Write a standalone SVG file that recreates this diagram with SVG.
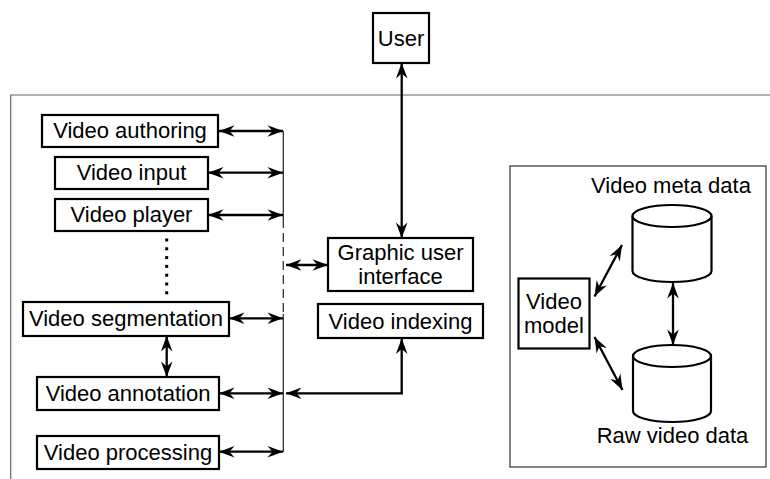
<svg xmlns="http://www.w3.org/2000/svg" width="770" height="479" viewBox="0 0 770 479">
  <style>
    .box { fill: #fff; stroke: #000; stroke-width: 2.2; }
    .lbl { font-family: "Liberation Sans", Arial, Helvetica, sans-serif; font-size: 22px; fill: #000; text-anchor: middle; }
    .frame { fill: none; stroke: #666; stroke-width: 1.2; }
    .bus { fill: none; stroke: #222; stroke-width: 1.2; }
    .arr { fill: none; stroke: #000; stroke-width: 2.3; marker-start: url(#head); marker-end: url(#head); }
    .cyl { fill: #fff; stroke: #000; stroke-width: 2.2; }
  </style>
  <defs>
    <marker id="head" markerUnits="userSpaceOnUse" viewBox="-17 -7 18 14" refX="0" refY="0" markerWidth="18" markerHeight="14" orient="auto-start-reverse">
      <path d="M0,0 L-15.5,-5.8 L-10.5,0 L-15.5,5.8 Z" fill="#000"/>
    </marker>
  </defs>

  <!-- outer system frame (open at right and bottom) -->
  <path class="frame" d="M10.7,479 V95 H770"/>

  <!-- storage panel -->
  <rect x="510" y="166" width="256" height="301" fill="none" stroke="#333" stroke-width="1.2"/>

  <g id="connectors">
    <!-- shared bus -->
    <path class="bus" d="M283.3,131 V219"/>
    <path class="bus" d="M283.3,219 V316" stroke-dasharray="9 5"/>
    <path class="bus" d="M283.3,314 V452"/>

    <line class="arr" x1="219" y1="131" x2="283" y2="131"/>
    <line class="arr" x1="208" y1="172.7" x2="283" y2="172.7"/>
    <line class="arr" x1="208" y1="215" x2="283" y2="215"/>
    <line class="arr" x1="229" y1="318.3" x2="283" y2="318.3"/>
    <line class="arr" x1="219" y1="393.3" x2="283" y2="393.3"/>
    <line class="arr" x1="219" y1="451.7" x2="283" y2="451.7"/>

    <line class="arr" x1="166.7" y1="336" x2="166.7" y2="377"/>
    <line class="arr" x1="401.7" y1="63" x2="401.7" y2="238"/>
    <line class="arr" x1="286" y1="265" x2="328" y2="265"/>
    <path class="arr" d="M286,393.3 H401.7 V338.5"/>

    <!-- storage panel links -->
    <line class="arr" x1="594.5" y1="296.5" x2="622" y2="245"/>
    <line class="arr" x1="594.5" y1="337" x2="622.5" y2="390"/>
    <line class="arr" x1="673" y1="283" x2="673" y2="345"/>

    <!-- elision dots -->
    <g fill="#000">
      <rect x="165.2" y="238.5" width="3" height="3"/>
      <rect x="165.2" y="247.3" width="3" height="3"/>
      <rect x="165.2" y="256.1" width="3" height="3"/>
      <rect x="165.2" y="264.9" width="3" height="3"/>
      <rect x="165.2" y="273.7" width="3" height="3"/>
      <rect x="165.2" y="282.5" width="3" height="3"/>
      <rect x="165.2" y="291.3" width="3" height="3"/>
    </g>
  </g>

  <g id="user">
    <rect class="box" x="373" y="13" width="56" height="50"/>
    <text class="lbl" x="401" y="46">User</text>
  </g>

  <g id="video-authoring">
    <rect class="box" x="42" y="115" width="176" height="32"/>
    <text class="lbl" x="130" y="138">Video authoring</text>
  </g>

  <g id="video-input">
    <rect class="box" x="55" y="157" width="153" height="32"/>
    <text class="lbl" x="131.5" y="180">Video input</text>
  </g>

  <g id="video-player">
    <rect class="box" x="55" y="199" width="153" height="32"/>
    <text class="lbl" x="131.5" y="222">Video player</text>
  </g>

  <g id="video-segmentation">
    <rect class="box" x="23" y="302" width="206" height="34"/>
    <text class="lbl" x="126" y="326">Video segmentation</text>
  </g>

  <g id="video-annotation">
    <rect class="box" x="37" y="377" width="182" height="33"/>
    <text class="lbl" x="128" y="401">Video annotation</text>
  </g>

  <g id="video-processing">
    <rect class="box" x="37" y="436" width="182" height="33"/>
    <text class="lbl" x="128" y="460">Video processing</text>
  </g>

  <g id="gui">
    <rect class="box" x="328" y="238" width="145" height="53"/>
    <text class="lbl" x="400.5" y="260">Graphic user</text>
    <text class="lbl" x="400.5" y="284">interface</text>
  </g>

  <g id="video-indexing">
    <rect class="box" x="318" y="304" width="165" height="34"/>
    <text class="lbl" x="400.5" y="329">Video indexing</text>
  </g>

  <g id="video-model">
    <rect class="box" x="518.5" y="278.5" width="71" height="70"/>
    <text class="lbl" x="554" y="308.5">Video</text>
    <text class="lbl" x="554" y="332.5">model</text>
  </g>

  <g id="video-meta-data">
    <path class="cyl" d="M632.5,216 V271 A39.5,11 0 0 0 711.5,271 V216"/>
    <ellipse class="cyl" cx="672" cy="216" rx="39.5" ry="11"/>
    <text class="lbl" x="671" y="193">Video meta data</text>
  </g>

  <g id="raw-video-data">
    <path class="cyl" d="M633,356 V411 A39,11 0 0 0 711,411 V356"/>
    <ellipse class="cyl" cx="672" cy="356" rx="39" ry="11"/>
    <text class="lbl" x="672.5" y="443">Raw video data</text>
  </g>
</svg>
